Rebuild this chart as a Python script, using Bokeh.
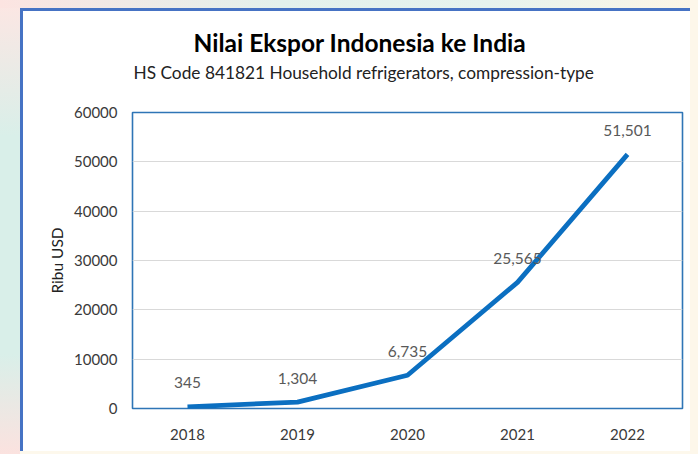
from bokeh.plotting import figure
from bokeh.models import (ColumnDataSource, LabelSet, Title,
                          FixedTicker, NumeralTickFormatter, Range1d)
from bokeh.core.properties import value
from bokeh.embed import file_html
from bokeh.resources import INLINE

years = ["2018", "2019", "2020", "2021", "2022"]
values = [345, 1304, 6735, 25565, 51501]
value_labels = ["345", "1,304", "6,735", "25,565", "51,501"]
y_ticks = [0, 10000, 20000, 30000, 40000, 50000, 60000]

title_text = "Nilai Ekspor Indonesia ke India"
subtitle_text = "HS Code 841821 Household refrigerators, compression-type"
y_label = "Ribu USD"

FONT = "Lato"
BLUE_FRAME = "#4673c4"

src = ColumnDataSource(dict(x=years, y=values, lab=value_labels))

p = figure(x_range=years, y_range=Range1d(0, 60000),
           width=698, height=454, output_backend="svg", toolbar_location=None,
           min_border_left=132, min_border_right=16, min_border_top=112,
           min_border_bottom=46)
p.frame_width = 550
p.frame_height = 296

# page background and chart frame border (CSS backgrounds behind the canvas)
p.border_fill_alpha = 0
p.background_fill_color = "white"
p.styles = {
    "background": (
        f"linear-gradient({BLUE_FRAME},{BLUE_FRAME}) 20px 8px / 3px 443px no-repeat, "
        f"linear-gradient({BLUE_FRAME},{BLUE_FRAME}) 20px 8px / 670px 3px no-repeat, "
        "linear-gradient(#ffffff,#ffffff) 23px 11px / 667px 440px no-repeat, "
        "linear-gradient(#fdf7ea,#fdf7ea) 690px 0px / 8px 454px no-repeat, "
        "linear-gradient(#fdf8ec,#fdf8ec) 20px 451px / 678px 3px no-repeat, "
        "linear-gradient(to right, #fce4e1 0%, #e3f1ec 40%, #e6f3ee 70%, #fdf6e6 100%) 0px 0px / 698px 8px no-repeat, "
        "linear-gradient(to bottom, #fde6e3 0%, #d9efe9 30%, #d9efe9 78%, #fbe2df 100%)"
    )
}

p.outline_line_color = "#2e75b6"
p.outline_line_width = 1.6

# grid
p.xgrid.grid_line_color = None
p.ygrid.grid_line_color = "#d9d9d9"
p.ygrid.grid_line_width = 1.2
p.ygrid.ticker = FixedTicker(ticks=y_ticks)

# axes
p.yaxis.ticker = FixedTicker(ticks=y_ticks)
p.yaxis.formatter = NumeralTickFormatter(format="0")
for ax in (p.xaxis[0], p.yaxis[0]):
    ax.axis_line_color = None
    ax.major_tick_line_color = None
    ax.minor_tick_line_color = None
    ax.major_tick_out = 0
    ax.major_tick_in = 0
    ax.major_label_text_font = FONT
    ax.major_label_text_font_size = "15px"
    ax.major_label_text_color = "#3a3a3a"
p.xaxis.major_label_standoff = 20
p.yaxis.major_label_standoff = 15
p.yaxis.axis_label = y_label
p.yaxis.axis_label_text_font = FONT
p.yaxis.axis_label_text_font_size = "15.5px"
p.yaxis.axis_label_text_font_style = "normal"
p.yaxis.axis_label_text_color = "#222222"
p.yaxis.axis_label_standoff = 5

# line
p.line("x", "y", source=src, line_color="#0b6fc1", line_width=4.8,
       line_cap="butt", line_join="round")

# data labels
p.add_layout(LabelSet(x="x", y="y", text="lab", source=src, y_offset=24,
                      text_align="center", text_baseline="middle",
                      text_font=value(FONT), text_font_size="15.5px",
                      text_color="#595959"))

# titles (first added sits nearest the plot); a blank spacer gives the gap
p.add_layout(Title(text=" ", standoff=26, text_font_size="1px"), "above")
p.add_layout(Title(text=subtitle_text, align="left", offset=1, standoff=2,
                   text_font=FONT, text_font_size="17.3px", text_font_style="normal",
                   text_color="#222222"), "above")
p.add_layout(Title(text=title_text, align="left", offset=61, standoff=3,
                   text_font=FONT, text_font_size="24.5px", text_font_style="bold",
                   text_color="#000000"), "above")

open("out.html", "w").write(file_html(p, INLINE))
